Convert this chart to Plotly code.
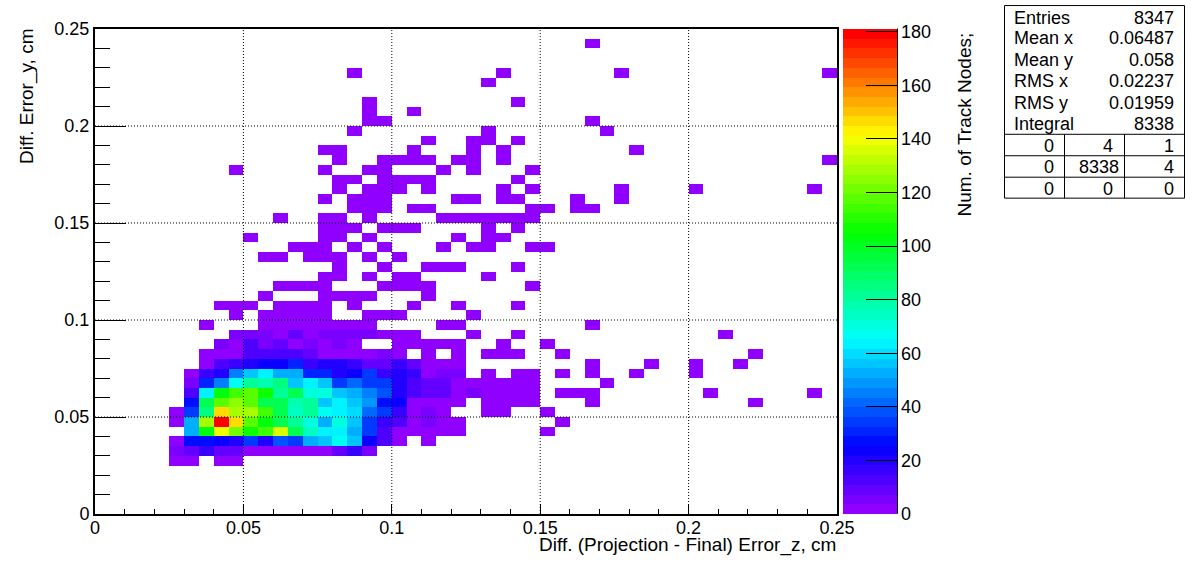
import numpy as np
import plotly.graph_objects as go

# ---------- axes ----------
N_BINS = 50
AXIS_MAX = 0.25
GRID_VALUES = [0.05, 0.1, 0.15, 0.2]
Z_MAX = 181
Z_TICKS = [0, 20, 40, 60, 80, 100, 120, 140, 160, 180]

X_TITLE = "Diff. (Projection - Final) Error_z, cm"
Y_TITLE = "Diff. Error_y, cm"
Z_TITLE = "Num. of Track Nodes;"

# ---------- counts: densely filled rows, as (first column, counts) ----------
row_06 = (5, [4, 8, 16, 8, 8, 1, 1, 3, 1, 1, 1, 8, 16, 5])
row_07 = (5, [1, 28, 28, 23, 19, 36, 19, 38, 34, 54, 57, 68, 56, 23, 13, 1])
row_08 = (6, [54, 103, 139, 121, 107, 114, 135, 91, 74, 64, 64, 51, 36, 11, 2, 1, 1, 1, 1])
row_09 = (5, [1, 54, 130, 181, 147, 116, 103, 93, 81, 71, 51, 71, 55, 36, 16, 13, 1, 5, 1, 1])
row_10 = (5, [1, 36, 84, 147, 130, 128, 114, 91, 76, 80, 68, 64, 59, 41, 34, 16, 1, 5, 1])
row_11 = (6, [26, 91, 116, 125, 119, 93, 91, 78, 80, 55, 62, 56, 49, 26, 23, 1, 1, 1, 1])
row_12 = (6, [13, 64, 103, 114, 119, 105, 81, 93, 71, 71, 56, 51, 44, 38, 21, 11, 8, 8, 1, 5])
row_13 = (6, [5, 31, 46, 68, 81, 78, 86, 56, 64, 56, 36, 41, 36, 34, 21, 11, 8, 8])
row_14 = (6, [2, 16, 21, 44, 55, 64, 54, 51, 29, 29, 21, 23, 34, 16, 21, 16, 2, 6, 6])
row_15 = (7, [2, 13, 16, 21, 23, 23, 30, 16, 19, 21, 18, 8, 8, 16, 8])
row_16 = (7, [3, 3, 3, 11, 14, 14, 14, 9, 3, 3, 3, 3, 5, 1])
row_17 = (8, [6, 2, 11, 5, 9, 1, 5, 2, 5, 3])
row_18 = (9, [5, 5, 5, 2, 8, 2, 7, 7, 7, 7])
dense_rows = {6: row_06, 7: row_07, 8: row_08, 9: row_09, 10: row_10, 11: row_11, 12: row_12,
              13: row_13, 14: row_14, 15: row_15, 16: row_16, 17: row_17, 18: row_18}

# ---------- columns holding a count of one, by row ----------
lone_cells = {
    5: [5, 6, 8, 9],
    7: [22],
    8: [30],
    9: [31],
    10: [26, 27, 30],
    11: [26, 27, 28, 29, 33, 44],
    12: [26, 27, 28, 29, 31, 32, 33, 41, 48],
    13: [24, 25, 26, 27, 28, 29, 34],
    14: [26, 28, 29, 31, 33, 36, 40],
    15: [22, 23, 24, 33, 37, 40, 43],
    16: [22, 24, 26, 27, 28, 31, 44],
    17: [20, 21, 22, 23, 24, 27, 30],
    18: [19, 20, 21, 25, 28, 42],
    19: [7, 11, 12, 13, 14, 15, 16, 17, 18, 23, 24, 33],
    20: [9, 11, 12, 13, 14, 15, 18, 19, 20, 25],
    21: [8, 9, 10, 12, 13, 14, 15, 17, 21, 24, 28],
    22: [11, 15, 16, 17, 18, 22],
    23: [12, 13, 14, 15, 19, 20, 21, 22, 29],
    24: [15, 16, 18, 20, 21, 26],
    25: [16, 19, 22, 23, 24, 28],
    26: [11, 12, 14, 15, 16, 18, 20],
    27: [13, 14, 15, 17, 19, 23, 25, 26, 29, 30],
    28: [10, 15, 16, 18, 24, 26, 27],
    29: [15, 16, 17, 19, 20, 21, 26, 28],
    30: [12, 15, 16, 18, 23, 24, 25, 26, 27, 28, 29],
    31: [17, 18, 19, 21, 22, 29, 30, 32, 33],
    32: [15, 17, 18, 19, 24, 25, 27, 28, 32, 35],
    33: [16, 18, 19, 20, 22, 27, 29, 35, 40, 48],
    34: [16, 17, 19, 20, 21, 22, 28],
    35: [9, 15, 18, 19, 23, 25, 29],
    36: [16, 19, 20, 21, 22, 24, 25, 27, 49],
    37: [15, 16, 21, 25, 27, 36],
    38: [22, 25, 26, 28],
    39: [17, 26, 34],
    40: [18, 19, 33],
    41: [18, 21],
    42: [18, 28],
    44: [26],
    45: [17, 27, 35, 49],
    48: [33],
}

# ---------- statistics box ----------
stat_names = ["Entries", "Mean x", "Mean y", "RMS x", "RMS y", "Integral"]
stat_values = ["8347", "0.06487", "0.058", "0.02237", "0.01959", "8338"]
overflow_rows = [["0", "4", "1"], ["0", "8338", "4"], ["0", "0", "0"]]

FONT = "Liberation Sans"
PLOT_L, PLOT_R, PLOT_T, PLOT_B = 95, 837, 28.5, 514.5

# ---------- build ----------
z = np.full((N_BINS, N_BINS), np.nan)
for j, (start, values) in dense_rows.items():
    z[j, start:start + len(values)] = values
for j, cols in lone_cells.items():
    z[j, cols] = 1

centers = (np.arange(N_BINS) + 0.5) * AXIS_MAX / N_BINS

# 50-level rainbow palette, as in the reference colour bar
anchor_levels = [0, 6.5, 17.5, 28.5, 38.5, 49]
anchor_rgb = np.array([[144, 0, 255], [0, 0, 255], [0, 255, 255],
                       [0, 255, 0], [255, 255, 0], [255, 0, 0]])
levels = 50
colorscale = []
for i in range(levels):
    rgb = [int(round(np.interp(i, anchor_levels, anchor_rgb[:, c]))) for c in range(3)]
    col = f"rgb({rgb[0]},{rgb[1]},{rgb[2]})"
    colorscale.append([i / levels, col])
    colorscale.append([(i + 1) / levels, col])


def px(x):
    return (x - PLOT_L) / (PLOT_R - PLOT_L)


def py(y):
    return (PLOT_B - y) / (PLOT_B - PLOT_T)


fig = go.Figure(go.Heatmap(
    x=centers, y=centers, z=z, zmin=0, zmax=Z_MAX,
    colorscale=colorscale, hoverongaps=False,
    colorbar=dict(
        x=px(843), xanchor="left", xpad=0, y=0, yanchor="bottom", ypad=0,
        len=1, lenmode="fraction", thickness=54, thicknessmode="pixels",
        outlinewidth=0, ticks="inside", ticklen=31, tickwidth=1, tickcolor="black",
        tickmode="array", tickvals=Z_TICKS, ticktext=[str(t) for t in Z_TICKS],
        tickfont=dict(family=FONT, size=18, color="black"),
    ),
))

axis_style = dict(
    range=[0, AXIS_MAX], tick0=0, dtick=0.05, showgrid=False, zeroline=False,
    showline=True, mirror=True, linecolor="black", linewidth=2,
    ticks="inside", tickcolor="black", tickwidth=1,
    tickfont=dict(family=FONT, size=18, color="black"),
)
fig.update_xaxes(**axis_style, ticklen=10, ticklabelstandoff=-4,
                 minor=dict(ticks="inside", ticklen=5, dtick=0.01, tick0=0, tickcolor="black",
                            tickwidth=1, showgrid=False))
fig.update_yaxes(**axis_style, ticklen=31,
                 minor=dict(ticks="inside", ticklen=15, dtick=0.01, tick0=0, tickcolor="black",
                            tickwidth=1, showgrid=False))

# dotted grid drawn above the cells
dot = dict(color="black", width=1, dash="1px,2px")
for v in GRID_VALUES:
    fig.add_shape(type="line", xref="x", yref="y", x0=v, x1=v, y0=0, y1=AXIS_MAX, line=dot, layer="above")
    fig.add_shape(type="line", xref="x", yref="y", x0=0, x1=AXIS_MAX, y0=v, y1=v, line=dot, layer="above")

# right-hand axis line of the colour bar
thin = dict(color="black", width=1)
fig.add_shape(type="line", xref="paper", yref="paper", x0=px(897.5), x1=px(897.5), y0=py(28), y1=py(514), line=thin)
fig.add_shape(type="line", xref="paper", yref="paper", x0=px(866), x1=px(897.5), y0=py(514), y1=py(514), line=thin)

annotations = []


def text(s, x, y, xanchor="left", yanchor="middle", angle=0, size=18):
    annotations.append(dict(
        text=s, x=px(x), y=py(y), xref="paper", yref="paper", xanchor=xanchor, yanchor=yanchor,
        showarrow=False, textangle=angle, borderpad=0, font=dict(family=FONT, size=size, color="black"),
    ))


text(X_TITLE, 837, 546, xanchor="right", size=19)
text(Y_TITLE, 27, 28, xanchor="center", yanchor="top", angle=-90, size=19)
text(Z_TITLE, 964, 31, xanchor="center", yanchor="top", angle=-90, size=19)

# statistics box
BOX_L, BOX_R, BOX_T, BOX_B = 1004.5, 1184.5, 5, 198
fig.add_shape(type="rect", xref="paper", yref="paper", x0=px(BOX_L), x1=px(BOX_R), y0=py(BOX_T), y1=py(BOX_B),
              line=thin, fillcolor="white")
for yl in [134, 155.5, 177]:
    fig.add_shape(type="line", xref="paper", yref="paper", x0=px(BOX_L), x1=px(BOX_R), y0=py(yl), y1=py(yl), line=thin)
for xl in [1064.5, 1124.5]:
    fig.add_shape(type="line", xref="paper", yref="paper", x0=px(xl), x1=px(xl), y0=py(134), y1=py(BOX_B), line=thin)

stat_y = [17, 38, 59.5, 81, 102.5, 123.5]
for name, value, y in zip(stat_names, stat_values, stat_y):
    text(name, 1012.5, y)
    text(value, 1174.5, y, xanchor="right")
table_y = [146, 167, 189]
table_right = [1055, 1120, 1174.5]
for row, y in zip(overflow_rows, table_y):
    for c, (cell, xr) in enumerate(zip(row, table_right)):
        right = 1114 if c == 1 and len(cell) == 1 else xr
        text(cell, right, y, xanchor="right")

fig.update_layout(
    width=1196, height=572, autosize=False,
    margin=dict(l=PLOT_L, r=1196 - PLOT_R, t=PLOT_T, b=572 - PLOT_B, pad=0),
    paper_bgcolor="white", plot_bgcolor="white", showlegend=False,
    annotations=annotations,
    font=dict(family=FONT, color="black"),
)

fig.write_html("out.html", config=dict(displayModeBar=False),
               post_script="document.body.style.margin='0';document.documentElement.style.overflow='hidden';")
